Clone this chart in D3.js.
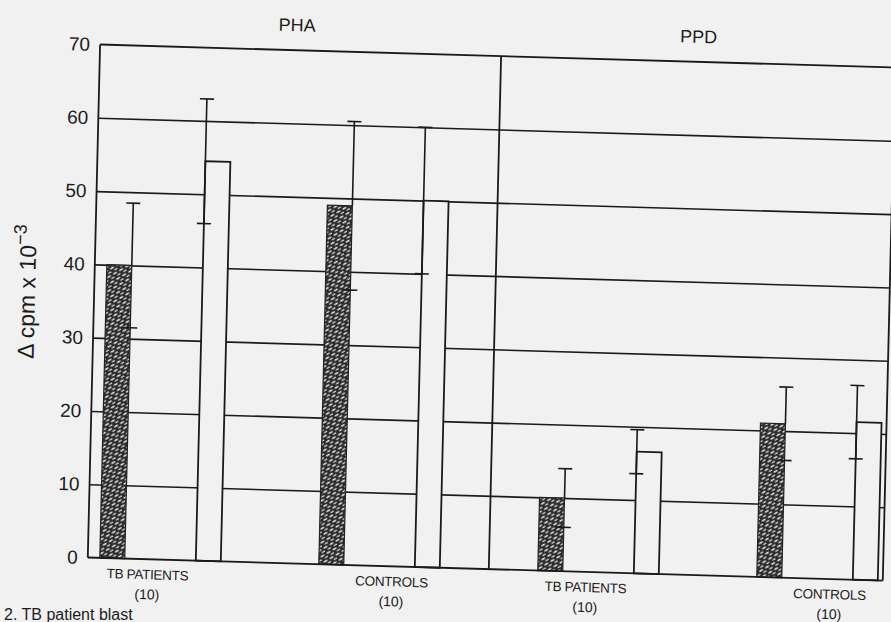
<!DOCTYPE html>
<html>
<head>
<meta charset="utf-8">
<script src="https://cdn.jsdelivr.net/npm/d3@7"></script>
<style>
  html, body { margin: 0; padding: 0; background: #f1f1f1; }
  svg { display: block; }
  text { font-family: "Liberation Sans", Arial, sans-serif; fill: #1c1c1c; }
</style>
</head>
<body>
<div id="chart"></div>
<script>
// groups along the x axis, left to right
var groupKeys = ["PHA TB", "PHA Controls", "PPD TB", "PPD Controls"];
var stimuli = ["PHA", "PPD"];
var groupLabels = ["TB PATIENTS", "CONTROLS", "TB PATIENTS", "CONTROLS"];
var groupN = ["(10)", "(10)", "(10)", "(10)"];
var seriesKeys = ["hatched", "open"];

// mean and SD, delta cpm x 10^-3
var hatchedMean = [40, 49, 10, 21];
var hatchedSD = [8.5, 11.5, 4, 5];
var openMean = [54.5, 50, 16.6, 21.5];
var openSD = [8.5, 10, 3, 5];

var yTicks = [0, 10, 20, 30, 40, 50, 60, 70];
var gridTicks = [10, 20, 30, 40, 50, 60];

var width = 891, height = 622;
var plotLeft = 94, plotRight = 889, plotTop = 56, plotBottom = 569;
var groupStart = 106, groupStep = 219, groupWidth = 121;
var ink = "#1a1a1a";

var svg = d3.select("#chart").append("svg")
    .attr("width", width)
    .attr("height", height);

var defs = svg.append("defs");
// dark speckled hatching of the filled bars
var pat = defs.append("pattern")
    .attr("id", "hatch")
    .attr("patternUnits", "userSpaceOnUse")
    .attr("width", 7).attr("height", 6)
    .attr("patternTransform", "rotate(-32)");
pat.append("rect").attr("width", 7).attr("height", 6).attr("fill", "#2c2c2c");
pat.append("line")
    .attr("x1", 0.5).attr("y1", 1.5).attr("x2", 4.5).attr("y2", 1.5)
    .attr("stroke", "#ededed").attr("stroke-width", 1.5);
pat.append("line")
    .attr("x1", 3.5).attr("y1", 4.5).attr("x2", 7).attr("y2", 4.5)
    .attr("stroke", "#d6d6d6").attr("stroke-width", 1.3);

svg.append("rect").attr("width", width).attr("height", height).attr("fill", "#f1f1f1");

// the scanned page is slightly skewed, so the whole chart is sheared about its centre
var cx = 490, cy = 310, sx = -0.024, sy = 0.029;
var g = svg.append("g")
    .attr("transform", "matrix(1," + sy + "," + sx + ",1," + (-sx * cy) + "," + (-sy * cx) + ")");

var y = d3.scaleLinear().domain([0, 70]).range([plotBottom, plotTop]);
var xGroup = d3.scaleBand()
    .domain(groupKeys)
    .range([groupStart, groupStart + groupStep * groupKeys.length]);
var xSeries = d3.scaleBand()
    .domain(seriesKeys)
    .range([0, groupWidth])
    .paddingInner(0.74);

// gridlines behind the bars
g.append("g")
    .attr("transform", "translate(" + plotLeft + ",0)")
    .call(d3.axisLeft(y).tickValues(gridTicks).tickSize(-(plotRight - plotLeft)).tickFormat(""))
    .call(function (a) {
        a.select(".domain").remove();
        a.selectAll("line").attr("stroke", ink).attr("stroke-width", 1.6);
    });

var rows = groupKeys.map(function (k, i) {
    return {key: k, hm: hatchedMean[i], hs: hatchedSD[i], om: openMean[i], os: openSD[i]};
});

// open bars: white boxes, error bar on the left edge
var openG = g.append("g");
openG.selectAll("rect").data(rows).enter().append("rect")
    .attr("x", function (d) { return xGroup(d.key) + xSeries("open"); })
    .attr("y", function (d) { return y(d.om); })
    .attr("width", xSeries.bandwidth())
    .attr("height", function (d) { return y(0) - y(d.om); })
    .attr("fill", "#f1f1f1")
    .attr("stroke", ink)
    .attr("stroke-width", 1.8);

// hatched bars, error bar on the right edge
var hatchG = g.append("g");
hatchG.selectAll("rect").data(rows).enter().append("rect")
    .attr("x", function (d) { return xGroup(d.key) + xSeries("hatched"); })
    .attr("y", function (d) { return y(d.hm); })
    .attr("width", xSeries.bandwidth())
    .attr("height", function (d) { return y(0) - y(d.hm); })
    .attr("fill", "url(#hatch)")
    .attr("stroke", "#222")
    .attr("stroke-width", 1.2);

var errs = [];
rows.forEach(function (d) {
    errs.push({x: xGroup(d.key) + xSeries("hatched") + xSeries.bandwidth(), lo: d.hm - d.hs, hi: d.hm + d.hs, from: d.hm});
    errs.push({x: xGroup(d.key) + xSeries("open"), lo: d.om - d.os, hi: d.om + d.os, from: d.om - d.os});
});

var capW = 7;
var eg = g.append("g").attr("stroke", ink).attr("stroke-width", 1.6);
eg.selectAll(".stem").data(errs).enter().append("line")
    .attr("x1", function (d) { return d.x; }).attr("x2", function (d) { return d.x; })
    .attr("y1", function (d) { return y(d.from); })
    .attr("y2", function (d) { return y(d.hi); });
eg.selectAll(".capHi").data(errs).enter().append("line")
    .attr("x1", function (d) { return d.x - capW; }).attr("x2", function (d) { return d.x + capW; })
    .attr("y1", function (d) { return y(d.hi); }).attr("y2", function (d) { return y(d.hi); });
eg.selectAll(".capLo").data(errs).enter().append("line")
    .attr("x1", function (d) { return d.x - capW; }).attr("x2", function (d) { return d.x + capW; })
    .attr("y1", function (d) { return y(d.lo); }).attr("y2", function (d) { return y(d.lo); });

// frame and the PHA / PPD divider
var divX = (xGroup(groupKeys[1]) + groupWidth + xGroup(groupKeys[2])) / 2;
var frame = g.append("g").attr("stroke", ink).attr("stroke-width", 1.8).attr("fill", "none");
frame.append("line").attr("x1", plotLeft).attr("x2", plotLeft).attr("y1", y(70)).attr("y2", y(0));
frame.append("line").attr("x1", plotRight).attr("x2", plotRight).attr("y1", y(70)).attr("y2", y(0));
frame.append("line").attr("x1", plotLeft).attr("x2", plotRight).attr("y1", y(70)).attr("y2", y(70));
frame.append("line").attr("x1", plotLeft).attr("x2", plotRight).attr("y1", y(0)).attr("y2", y(0));
frame.append("line").attr("x1", divX).attr("x2", divX).attr("y1", y(70)).attr("y2", y(0));

// y tick labels
g.append("g")
    .attr("transform", "translate(" + plotLeft + ",0)")
    .call(d3.axisLeft(y).tickValues(yTicks).tickSize(0).tickPadding(10))
    .call(function (a) {
        a.select(".domain").remove();
        a.selectAll("text")
            .attr("font-size", 19)
            .attr("font-family", "Liberation Sans, Arial, sans-serif")
            .attr("fill", "#1c1c1c");
    });

// y title
var yt = g.append("text")
    .attr("transform", "translate(35,305) rotate(-90)")
    .attr("text-anchor", "middle")
    .attr("font-size", 23);
yt.append("tspan").text("\u0394 cpm x 10");
yt.append("tspan").attr("dy", -10).attr("font-size", 18).text("\u22123");

// stimulus headers
var headX = [(plotLeft + divX) / 2, (divX + plotRight) / 2];
g.selectAll(".head").data(stimuli).enter().append("text")
    .attr("x", function (d, i) { return headX[i] + (i === 0 ? -4 : 0); })
    .attr("y", 37)
    .attr("text-anchor", "middle")
    .attr("font-size", 18)
    .text(function (d) { return d; });

// group labels (the scan sets them off-centre)
function labelX(d, i) {
    return xGroup(groupKeys[i]) + (groupLabels[i] === "CONTROLS" ? 73 : 48);
}
g.selectAll(".glab").data(groupLabels).enter().append("text")
    .attr("x", labelX)
    .attr("y", 589)
    .attr("text-anchor", "middle")
    .attr("font-size", 13.5)
    .attr("letter-spacing", -0.3)
    .text(function (d) { return d; });
g.selectAll(".gn").data(groupN).enter().append("text")
    .attr("x", labelX)
    .attr("y", 609)
    .attr("text-anchor", "middle")
    .attr("font-size", 14)
    .text(function (d) { return d; });

// caption line below the figure
svg.append("text")
    .attr("x", 4).attr("y", 620)
    .attr("font-size", 16)
    .text("2.  TB patient blast");
</script>
</body>
</html>
